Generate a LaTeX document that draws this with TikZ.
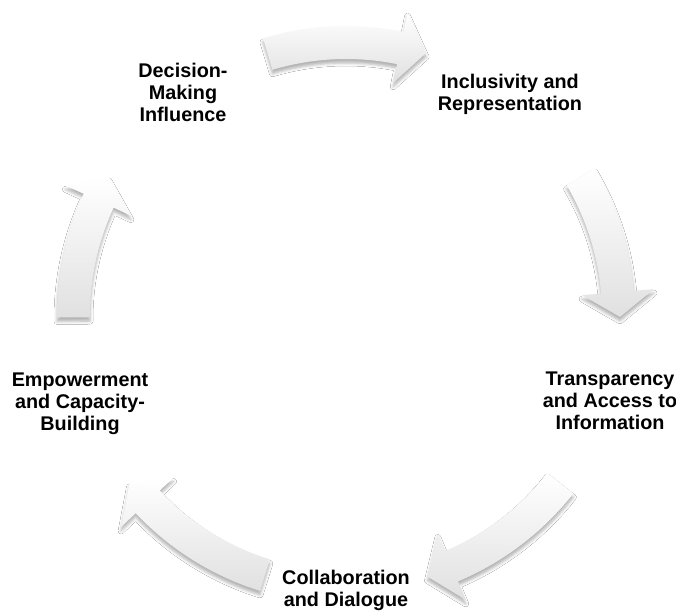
\documentclass[tikz,border=0pt]{standalone}
\usepackage{fontspec}
\setmainfont{Liberation Sans}
\usetikzlibrary{shadows.blur}
\begin{document}
\begin{tikzpicture}[x=1pt,y=1pt,
  lbl/.style={font=\bfseries\fontsize{19.8}{22}\selectfont, align=center, inner sep=0pt, text=black},
  cyc/.style={top color=white, bottom color=black!12, draw=none,
    blur shadow={shadow xshift=0pt, shadow yshift=-4pt, shadow blur radius=3pt, shadow opacity=30}}]
\useasboundingbox (0,0) rectangle (676,611);
\fill[white] (0,0) rectangle (676,611);
\coordinate (C) at (346,296);
\newcommand\cycarrow[3]{%
 \path[cyc, shift={(C)}] (#1:289) arc[start angle=#1, end angle=#2, radius=289]
   -- (#2:309) -- (#3:274) -- (#2:237) -- (#2:256)
   arc[start angle=#2, end angle=#1, radius=256] -- cycle;}
\cycarrow{106.7}{78.5}{73}
\cycarrow{30.5}{4.8}{-0.4}
\cycarrow{-38.1}{-67.2}{-72.7}
\cycarrow{-107.3}{-136.7}{-142.2}
\cycarrow{180.5}{155.2}{149.8}
\node[lbl] (dec) at (183,519) {Decision-\\Making\\Influence};
\node[lbl] (inc) at (510,517) {Inclusivity and\\Representation};
\node[lbl] (tra) at (610,210) {Transparency\\and Access to\\Information};
\node[lbl] (col) at (346,21) {Collaboration\\and Dialogue};
\node[lbl] (emp) at (80,207) {Empowerment\\and Capacity-\\Building};
\end{tikzpicture}
\end{document}
